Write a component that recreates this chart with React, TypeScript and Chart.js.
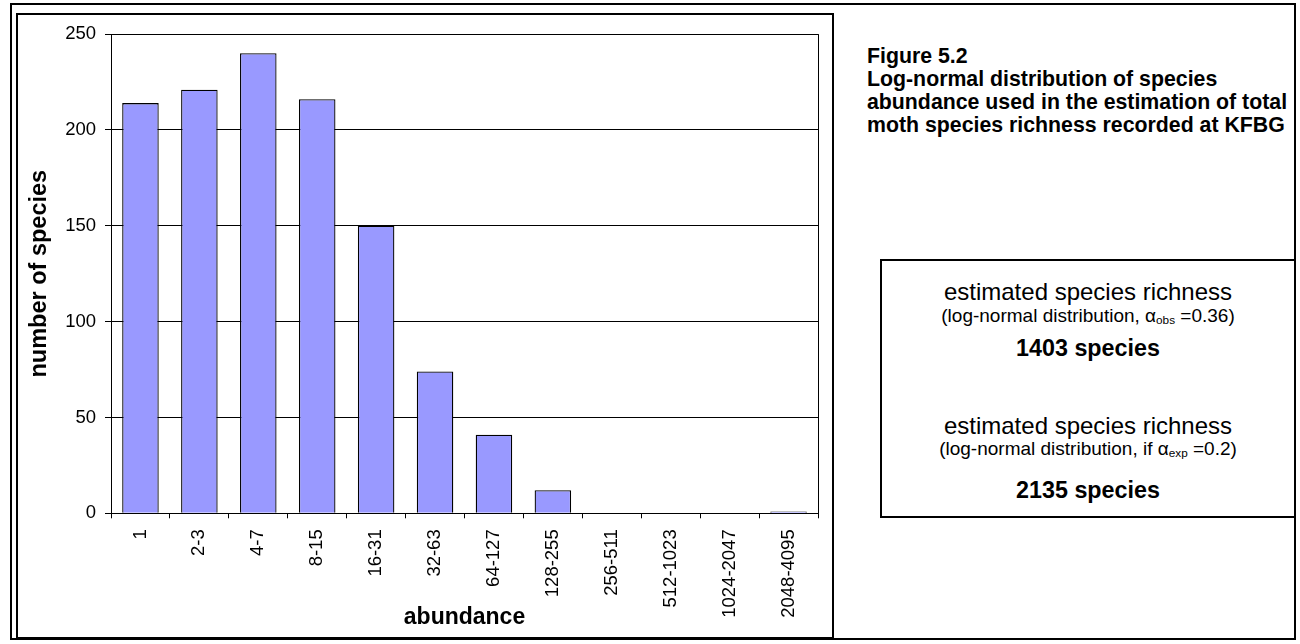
import React, { useEffect, useRef } from "react";
import { Chart, registerables } from "chart.js";

Chart.register(...registerables);

const categories = ["1", "2-3", "4-7", "8-15", "16-31", "32-63", "64-127", "128-255", "256-511", "512-1023", "1024-2047", "2048-4095"];
const speciesCounts = [214, 221, 240, 216, 150, 74, 41, 12, 0, 0, 0, 1];
const yMin = 0;
const yMax = 250;
const yStep = 50;
const xTitle = "abundance";
const yTitle = "number of species";
const figureLines = [
  "Figure 5.2",
  "Log-normal distribution of species",
  "abundance used in the estimation of total",
  "moth species richness recorded at KFBG",
];

const FONT = "Arial, 'Liberation Sans', sans-serif";

const framePlugin = {
  id: "plotFrame",
  afterDraw(chart: any) {
    const { ctx, chartArea } = chart;
    const x = Math.round(chartArea.right) + 0.5;
    ctx.save();
    ctx.strokeStyle = "#000";
    ctx.lineWidth = 1;
    ctx.beginPath();
    ctx.moveTo(x, chartArea.top);
    ctx.lineTo(x, chartArea.bottom);
    ctx.stroke();
    ctx.restore();
  },
};

function BarChart() {
  const ref = useRef<HTMLCanvasElement | null>(null);
  useEffect(() => {
    if (!ref.current) return;
    const chart = new Chart(ref.current, {
      type: "bar",
      data: {
        labels: categories,
        datasets: [
          {
            data: speciesCounts,
            backgroundColor: "#9999FF",
            borderColor: "#000000",
            borderWidth: 1.3,
            barPercentage: 1,
            categoryPercentage: 0.62,
          },
        ],
      },
      options: {
        animation: false,
        responsive: false,
        maintainAspectRatio: false,
        devicePixelRatio: 1,
        layout: { padding: { left: 0, top: 16, right: 15, bottom: 0 } },
        plugins: { legend: { display: false }, tooltip: { enabled: false } },
        scales: {
          x: {
            grid: {
              display: true,
              drawOnChartArea: false,
              drawTicks: true,
              tickLength: 5,
              color: "#000",
              offset: true,
            },
            border: { display: true, color: "#000", width: 1 },
            ticks: {
              minRotation: 90,
              maxRotation: 90,
              autoSkip: false,
              padding: 11,
              color: "#000",
              font: { family: FONT, size: 18.5 },
            },
            title: {
              display: true,
              text: xTitle,
              color: "#000",
              padding: { top: 0, bottom: 7 },
              font: { family: FONT, size: 23, weight: "bold" },
            },
            afterFit(scale: any) {
              scale.height = 124.7;
            },
          },
          y: {
            min: yMin,
            max: yMax,
            ticks: {
              stepSize: yStep,
              padding: 9,
              color: "#000",
              font: { family: FONT, size: 18.5 },
            },
            grid: { color: "#000", lineWidth: 1, drawTicks: true, tickLength: 6 },
            border: { display: true, color: "#000", width: 1 },
            title: {
              display: true,
              text: yTitle,
              color: "#000",
              padding: { top: 8, bottom: 0 },
              font: { family: FONT, size: 23.5, weight: "bold" },
            },
            afterFit(scale: any) {
              scale.width = 94;
            },
          },
        },
      },
      plugins: [framePlugin],
    } as any);
    return () => chart.destroy();
  }, []);
  return <canvas ref={ref} width={816} height={624} style={{ position: "absolute", left: 17, top: 14, width: 816, height: 624 }} />;
}

export default function App() {
  const boxLine = (top: number, lh: number, size: number, bold: boolean, content: React.ReactNode) => (
    <div
      style={{
        position: "absolute",
        left: 0,
        width: "100%",
        top: top - lh / 2,
        height: lh,
        lineHeight: lh + "px",
        fontSize: size,
        fontWeight: bold ? "bold" : "normal",
        textAlign: "center",
        whiteSpace: "nowrap",
      }}
    >
      {content}
    </div>
  );
  const sub = (t: string) => <span style={{ fontSize: "0.62em", verticalAlign: "-0.15em" }}>{t}</span>;
  return (
    <div style={{ position: "fixed", left: 0, top: 0, width: 1300, height: 644, background: "#fff", fontFamily: FONT, color: "#000" }}>
      <div style={{ position: "absolute", left: 10, top: 3, width: 1286, height: 637, border: "2px solid #000", boxSizing: "border-box" }} />
      <div style={{ position: "absolute", left: 16, top: 13, width: 818, height: 626, border: "2px solid #000", boxSizing: "border-box" }} />
      <BarChart />
      <div style={{ position: "absolute", left: 867, top: 45, fontSize: 21.3, fontWeight: "bold", lineHeight: "23px", whiteSpace: "nowrap" }}>
        {figureLines.map((l, i) => (
          <div key={i}>{l}</div>
        ))}
      </div>
      <div style={{ position: "absolute", left: 880, top: 259, width: 416, height: 259, border: "2px solid #000", boxSizing: "border-box", background: "#fff" }}>
        <div style={{ position: "absolute", left: -2, top: -261, width: 416, height: 0 }}>
          {boxLine(292, 28, 24, false, "estimated species richness")}
          {boxLine(316, 22, 19, false, <>(log-normal distribution, α{sub("obs")} =0.36)</>)}
          {boxLine(348, 28, 23.3, true, "1403 species")}
          {boxLine(426, 28, 24, false, "estimated species richness")}
          {boxLine(449, 22, 19, false, <>(log-normal distribution, if α{sub("exp")} =0.2)</>)}
          {boxLine(490, 28, 23.3, true, "2135 species")}
        </div>
      </div>
    </div>
  );
}
